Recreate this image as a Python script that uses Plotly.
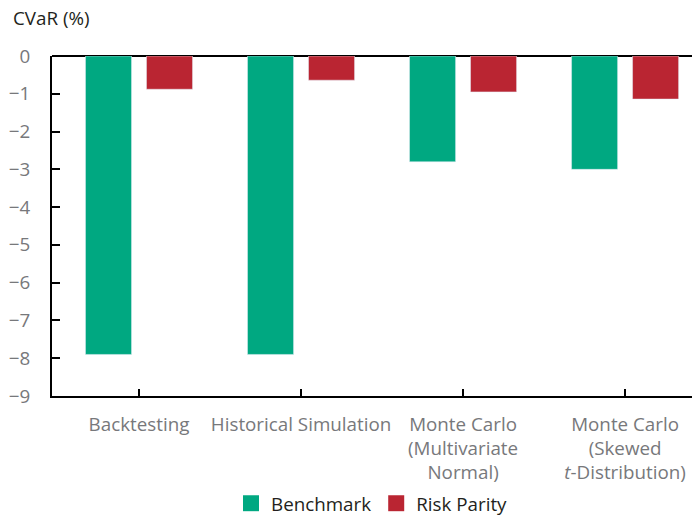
import plotly.graph_objects as go

# CVaR comparison by estimation method
categories = [
    "Backtesting",
    "Historical Simulation",
    "Monte Carlo<br>(Multivariate<br>Normal)",
    "Monte Carlo<br>(Skewed<br><i>t</i>-Distribution)",
]
benchmark = [-7.9, -7.9, -2.8, -3.0]
risk_parity = [-0.88, -0.64, -0.95, -1.14]

y_ticks = [0, -1, -2, -3, -4, -5, -6, -7, -8, -9]
y_ticktext = ["0" if v == 0 else "\u2212" + str(abs(v)) for v in y_ticks]

GREEN = "#00a881"
RED = "#ba2532"
FONT = "Open Sans, sans-serif"
GRAY = "#77787b"
FS = 18.8

x_idx = list(range(len(categories)))

fig = go.Figure()
fig.add_trace(go.Bar(x=x_idx, y=benchmark, marker_color=GREEN, name="Benchmark",
                     showlegend=False))
fig.add_trace(go.Bar(x=x_idx, y=risk_parity, marker_color=RED, name="Risk Parity",
                     showlegend=False))

# Larger square swatches for the legend
for name, color in [("Benchmark", GREEN), ("Risk Parity", RED)]:
    fig.add_trace(go.Scatter(x=[None], y=[None], mode="markers", name=name,
                             marker=dict(symbol="square", size=18, color=color)))

fig.update_layout(
    width=692, height=519,
    margin=dict(l=52, r=0, t=56, b=123, autoexpand=False),
    paper_bgcolor="white", plot_bgcolor="white",
    barmode="group", bargap=0.247, bargroupgap=0.245,
    font=dict(family=FONT, size=FS, color=GRAY),
    legend=dict(orientation="h", x=0.5, xanchor="center", y=-0.372, yanchor="bottom",
                font=dict(family=FONT, size=FS, color="#231f20"),
                itemsizing="trace", traceorder="normal"),
    annotations=[dict(text="CVaR (%)", xref="paper", yref="paper", x=-0.064, y=1.112,
                      xanchor="left", yanchor="middle", showarrow=False,
                      font=dict(family=FONT, size=FS, color="#231f20"))],
)

fig.update_xaxes(
    range=[-0.537, 3.413], tickvals=x_idx, ticktext=categories, automargin=False,
    showline=True, linecolor="black", linewidth=2, showgrid=False, zeroline=False,
    ticks="inside", ticklen=7, tickcolor="black", tickwidth=1.5,
    tickfont=dict(family=FONT, size=FS, color=GRAY), ticklabelstandoff=10,
)
fig.update_yaxes(
    range=[-9, 0], tickvals=y_ticks, ticktext=y_ticktext, automargin=False,
    showline=True, linecolor="black", linewidth=2, showgrid=False,
    zeroline=True, zerolinecolor="black", zerolinewidth=2,
    ticks="inside", ticklen=8, tickcolor="black", tickwidth=1.5,
    tickfont=dict(family=FONT, size=FS, color=GRAY), ticklabelstandoff=16,
)

fig.write_html("out.html")
